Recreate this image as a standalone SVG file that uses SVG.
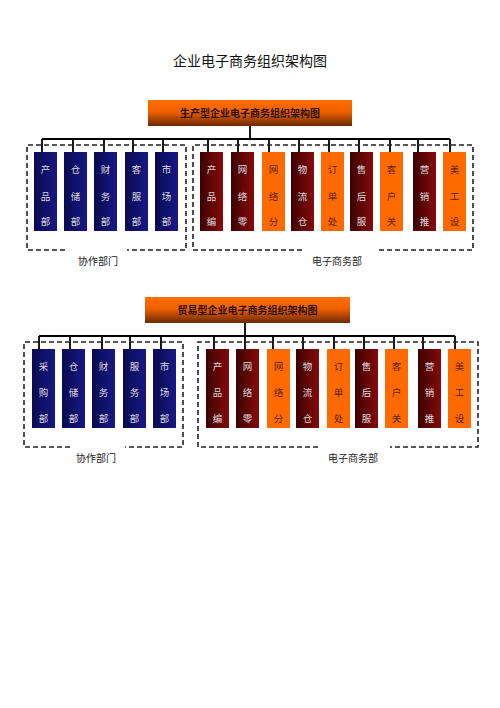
<svg xmlns="http://www.w3.org/2000/svg" width="500" height="708" viewBox="0 0 500 708">
<defs>
<linearGradient id="hdr" x1="0" y1="0" x2="0" y2="1"><stop offset="0" stop-color="#ff6e00"/><stop offset="0.45" stop-color="#f06000"/><stop offset="1" stop-color="#6b2a05"/></linearGradient>
<linearGradient id="blue" x1="0" y1="0" x2="1" y2="0"><stop offset="0" stop-color="#0a0a50"/><stop offset="1" stop-color="#181886"/></linearGradient>
<linearGradient id="red" x1="0" y1="0" x2="1" y2="0"><stop offset="0" stop-color="#3d0202"/><stop offset="1" stop-color="#850a0a"/></linearGradient>
</defs>
<style>
text{font-family:"Noto Sans CJK SC","Liberation Sans",sans-serif;text-anchor:middle}
.title{font-size:14px;fill:#111}
.hdr{fill:url(#hdr)}
.ht{font-size:10px;font-weight:bold;fill:#2a1000}
.b{fill:url(#blue)}
.r{fill:url(#red)}
.o{fill:#ff6a00}
.lt{font-size:9.5px;fill:#dcdcdc}
.dt{font-size:9.5px;fill:#5a2500}
.lbl{font-size:10px;fill:#222}
.dash{fill:none;stroke:#222;stroke-width:1.6;stroke-dasharray:5,3}
.ln{fill:none;stroke:#000;stroke-width:1.8}
</style>
<text class="title" x="250" y="66">企业电子商务组织架构图</text>

<!-- Section 1 -->
<g id="hdr1"><rect class="hdr" x="148" y="100" width="204" height="26"/><text class="ht" x="250" y="117">生产型企业电子商务组织架构图</text></g>
<g id="connectors1">
<path class="ln" d="M250 126V139M42 139H450M42 139V152M73 139V152M104 139V152M133 139V152M163 139V152M208 139V152M238 139V152M269 139V152M299 139V152M329 139V152M359 139V152M390 139V152M418 139V152M450 139V152"/>
</g>
<g id="group1a"><path class="dash" d="M65 250H27V145H186V250H127"/><text class="lbl" x="98" y="265">协作部门</text></g>
<g id="group1b"><path class="dash" d="M302 250H193V145H473V250H376"/><text class="lbl" x="337" y="265">电子商务部</text></g>
<g id="n1-1"><rect class="b" x="34" y="152" width="23" height="79"/><text class="lt" x="45.5" y="173">产</text><text class="lt" x="45.5" y="200">品</text><text class="lt" x="45.5" y="225">部</text></g>
<g id="n1-2"><rect class="b" x="64" y="152" width="23" height="79"/><text class="lt" x="75.5" y="173">仓</text><text class="lt" x="75.5" y="200">储</text><text class="lt" x="75.5" y="225">部</text></g>
<g id="n1-3"><rect class="b" x="94" y="152" width="23" height="79"/><text class="lt" x="105.5" y="173">财</text><text class="lt" x="105.5" y="200">务</text><text class="lt" x="105.5" y="225">部</text></g>
<g id="n1-4"><rect class="b" x="125" y="152" width="23" height="79"/><text class="lt" x="136.5" y="173">客</text><text class="lt" x="136.5" y="200">服</text><text class="lt" x="136.5" y="225">部</text></g>
<g id="n1-5"><rect class="b" x="155" y="152" width="23" height="79"/><text class="lt" x="166.5" y="173">市</text><text class="lt" x="166.5" y="200">场</text><text class="lt" x="166.5" y="225">部</text></g>
<g id="n1-6"><rect class="r" x="200" y="152" width="23" height="79"/><text class="lt" x="211.5" y="173">产</text><text class="lt" x="211.5" y="200">品</text><text class="lt" x="211.5" y="225">编</text></g>
<g id="n1-7"><rect class="r" x="231" y="152" width="23" height="79"/><text class="lt" x="242.5" y="173">网</text><text class="lt" x="242.5" y="200">络</text><text class="lt" x="242.5" y="225">零</text></g>
<g id="n1-8"><rect class="o" x="262" y="152" width="23" height="79"/><text class="dt" x="273.5" y="173">网</text><text class="dt" x="273.5" y="200">络</text><text class="dt" x="273.5" y="225">分</text></g>
<g id="n1-9"><rect class="r" x="291" y="152" width="23" height="79"/><text class="lt" x="302.5" y="173">物</text><text class="lt" x="302.5" y="200">流</text><text class="lt" x="302.5" y="225">仓</text></g>
<g id="n1-10"><rect class="o" x="321" y="152" width="23" height="79"/><text class="dt" x="332.5" y="173">订</text><text class="dt" x="332.5" y="200">单</text><text class="dt" x="332.5" y="225">处</text></g>
<g id="n1-11"><rect class="r" x="350" y="152" width="23" height="79"/><text class="lt" x="361.5" y="173">售</text><text class="lt" x="361.5" y="200">后</text><text class="lt" x="361.5" y="225">服</text></g>
<g id="n1-12"><rect class="o" x="380" y="152" width="23" height="79"/><text class="dt" x="391.5" y="173">客</text><text class="dt" x="391.5" y="200">户</text><text class="dt" x="391.5" y="225">关</text></g>
<g id="n1-13"><rect class="r" x="413" y="152" width="23" height="79"/><text class="lt" x="424.5" y="173">营</text><text class="lt" x="424.5" y="200">销</text><text class="lt" x="424.5" y="225">推</text></g>
<g id="n1-14"><rect class="o" x="443" y="152" width="23" height="79"/><text class="dt" x="454.5" y="173">美</text><text class="dt" x="454.5" y="200">工</text><text class="dt" x="454.5" y="225">设</text></g>

<!-- Section 2 -->
<g id="hdr2"><rect class="hdr" x="145" y="297" width="205" height="26"/><text class="ht" x="247.5" y="314">贸易型企业电子商务组织架构图</text></g>
<g id="connectors2">
<path class="ln" d="M245 323V336M39 336H455M39 336V349M70 336V349M102 336V349M130 336V349M161 336V349M214 336V349M245 336V349M273 336V349M303 336V349M334 336V349M364 336V349M394 336V349M423 336V349M455 336V349"/>
</g>
<g id="group2a"><path class="dash" d="M70 447H24V342H183V447H125"/><text class="lbl" x="96" y="462">协作部门</text></g>
<g id="group2b"><path class="dash" d="M318 447H198V342H478V447H390"/><text class="lbl" x="353" y="462">电子商务部</text></g>
<g id="n2-1"><rect class="b" x="32" y="349" width="23" height="79"/><text class="lt" x="43.5" y="370">采</text><text class="lt" x="43.5" y="396">购</text><text class="lt" x="43.5" y="422">部</text></g>
<g id="n2-2"><rect class="b" x="62" y="349" width="23" height="79"/><text class="lt" x="73.5" y="370">仓</text><text class="lt" x="73.5" y="396">储</text><text class="lt" x="73.5" y="422">部</text></g>
<g id="n2-3"><rect class="b" x="92" y="349" width="23" height="79"/><text class="lt" x="103.5" y="370">财</text><text class="lt" x="103.5" y="396">务</text><text class="lt" x="103.5" y="422">部</text></g>
<g id="n2-4"><rect class="b" x="123" y="349" width="23" height="79"/><text class="lt" x="134.5" y="370">服</text><text class="lt" x="134.5" y="396">务</text><text class="lt" x="134.5" y="422">部</text></g>
<g id="n2-5"><rect class="b" x="153" y="349" width="23" height="79"/><text class="lt" x="164.5" y="370">市</text><text class="lt" x="164.5" y="396">场</text><text class="lt" x="164.5" y="422">部</text></g>
<g id="n2-6"><rect class="r" x="206" y="349" width="23" height="79"/><text class="lt" x="217.5" y="370">产</text><text class="lt" x="217.5" y="396">品</text><text class="lt" x="217.5" y="422">编</text></g>
<g id="n2-7"><rect class="r" x="236" y="349" width="23" height="79"/><text class="lt" x="247.5" y="370">网</text><text class="lt" x="247.5" y="396">络</text><text class="lt" x="247.5" y="422">零</text></g>
<g id="n2-8"><rect class="o" x="267" y="349" width="23" height="79"/><text class="dt" x="278.5" y="370">网</text><text class="dt" x="278.5" y="396">络</text><text class="dt" x="278.5" y="422">分</text></g>
<g id="n2-9"><rect class="r" x="296" y="349" width="23" height="79"/><text class="lt" x="307.5" y="370">物</text><text class="lt" x="307.5" y="396">流</text><text class="lt" x="307.5" y="422">仓</text></g>
<g id="n2-10"><rect class="o" x="327" y="349" width="23" height="79"/><text class="dt" x="338.5" y="370">订</text><text class="dt" x="338.5" y="396">单</text><text class="dt" x="338.5" y="422">处</text></g>
<g id="n2-11"><rect class="r" x="355" y="349" width="23" height="79"/><text class="lt" x="366.5" y="370">售</text><text class="lt" x="366.5" y="396">后</text><text class="lt" x="366.5" y="422">服</text></g>
<g id="n2-12"><rect class="o" x="385" y="349" width="23" height="79"/><text class="dt" x="396.5" y="370">客</text><text class="dt" x="396.5" y="396">户</text><text class="dt" x="396.5" y="422">关</text></g>
<g id="n2-13"><rect class="r" x="418" y="349" width="23" height="79"/><text class="lt" x="429.5" y="370">营</text><text class="lt" x="429.5" y="396">销</text><text class="lt" x="429.5" y="422">推</text></g>
<g id="n2-14"><rect class="o" x="448" y="349" width="23" height="79"/><text class="dt" x="459.5" y="370">美</text><text class="dt" x="459.5" y="396">工</text><text class="dt" x="459.5" y="422">设</text></g>
</svg>
